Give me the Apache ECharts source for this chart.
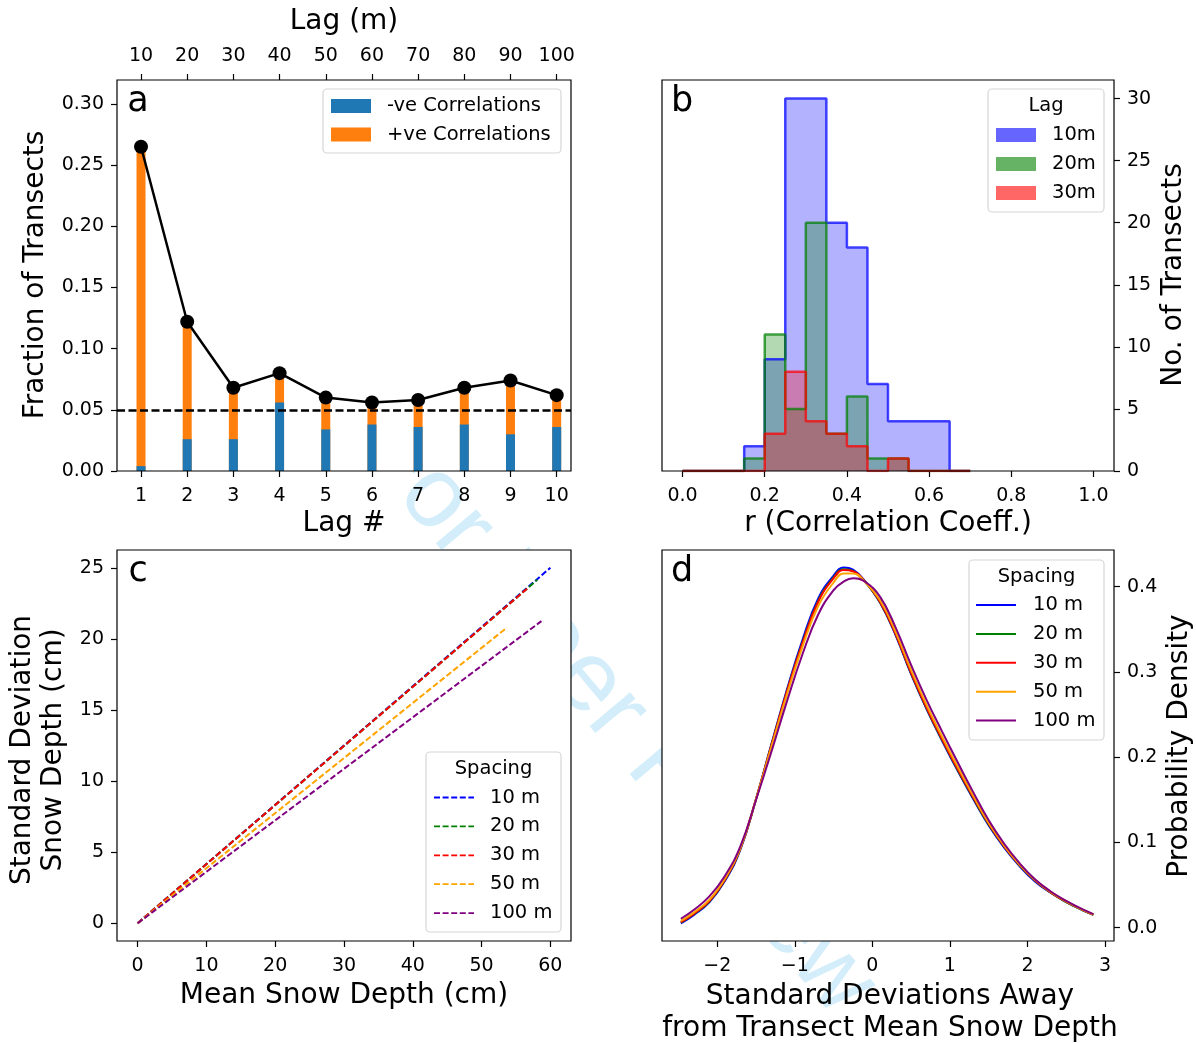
<!DOCTYPE html>
<html>
<head>
<meta charset="utf-8">
<script src="https://cdn.jsdelivr.net/npm/echarts@6/dist/echarts.min.js"></script>
<style>
  html, body { margin: 0; padding: 0; background: #fff; }
  #chart { width: 1196px; height: 1043px; }
</style>
</head>
<body>
<div id="chart"></div>
<script>
// ---------- Panel a: fraction of transects with significant autocorrelation ----------
const lagNumbers = [1, 2, 3, 4, 5, 6, 7, 8, 9, 10];
const lagMetres = [10, 20, 30, 40, 50, 60, 70, 80, 90, 100];
const fractionAll = [0.265, 0.122, 0.068, 0.080, 0.060, 0.056, 0.058, 0.068, 0.074, 0.062];
const fractionNegative = [0.004, 0.026, 0.026, 0.056, 0.034, 0.038, 0.036, 0.038, 0.030, 0.036];
const significanceLevel = 0.05;
const fractionTicks = [0, 0.05, 0.10, 0.15, 0.20, 0.25, 0.30];

// ---------- Panel b: histogram of correlation coefficients ----------
const rBinEdges = [0.00, 0.05, 0.10, 0.15, 0.20, 0.25, 0.30, 0.35, 0.40, 0.45, 0.50, 0.55, 0.60, 0.65, 0.70];
const transects10m = [0, 0, 0, 2, 9, 30, 30, 20, 18, 7, 4, 4, 4, 0];
const transects20m = [0, 0, 0, 1, 11, 5, 20, 3, 6, 1, 1, 0, 0, 0];
const transects30m = [0, 0, 0, 0, 3, 8, 4, 3, 2, 0, 1, 0, 0, 0];
const lagNames = ['10m', '20m', '30m'];
const rTicks = [0, 0.2, 0.4, 0.6, 0.8, 1.0];
const countTicks = [0, 5, 10, 15, 20, 25, 30];

// ---------- Panel c: standard deviation vs mean snow depth ----------
const spacingNames = ['10 m', '20 m', '30 m', '50 m', '100 m'];
const meanDepthEnd = [60.0, 58.1, 56.9, 53.7, 58.7];
const sdDepthEnd = [25.0, 24.15, 23.65, 20.8, 21.25];
const meanDepthTicks = [0, 10, 20, 30, 40, 50, 60];
const sdDepthTicks = [0, 5, 10, 15, 20, 25];

// ---------- Panel d: standardised snow depth distributions ----------
const zScores = [-2.47, -2.3, -2.1, -1.9, -1.7, -1.5, -1.3, -1.1, -0.9, -0.7, -0.5, -0.37, -0.25, -0.1,
                 0.1, 0.3, 0.5, 0.7, 0.9, 1.1, 1.3, 1.5, 1.7, 1.9, 2.1, 2.3, 2.5, 2.7, 2.85];
const density10m  = [0.005, 0.015, 0.030, 0.055, 0.092, 0.151, 0.216, 0.280, 0.338, 0.386, 0.413, 0.4225, 0.420, 0.407,
                     0.381, 0.343, 0.297, 0.256, 0.219, 0.184, 0.151, 0.120, 0.094, 0.072, 0.054, 0.041, 0.030, 0.021, 0.0150];
const density20m  = [0.006, 0.016, 0.031, 0.056, 0.093, 0.151, 0.215, 0.278, 0.335, 0.383, 0.411, 0.4205, 0.4185, 0.4065,
                     0.3815, 0.344, 0.298, 0.257, 0.220, 0.185, 0.152, 0.121, 0.095, 0.073, 0.055, 0.041, 0.030, 0.021, 0.0152];
const density30m  = [0.0065, 0.0165, 0.0315, 0.0565, 0.0935, 0.151, 0.2145, 0.2775, 0.334, 0.382, 0.410, 0.4195, 0.418, 0.4065,
                     0.382, 0.3445, 0.299, 0.258, 0.221, 0.186, 0.153, 0.122, 0.0955, 0.0735, 0.0555, 0.0415, 0.0305, 0.0215, 0.0153];
const density50m  = [0.008, 0.018, 0.033, 0.058, 0.094, 0.151, 0.2125, 0.274, 0.330, 0.377, 0.405, 0.4155, 0.4155, 0.406,
                     0.384, 0.347, 0.302, 0.261, 0.224, 0.189, 0.155, 0.123, 0.0965, 0.074, 0.056, 0.042, 0.031, 0.0215, 0.0155];
const density100m = [0.0105, 0.021, 0.037, 0.061, 0.096, 0.150, 0.207, 0.266, 0.321, 0.367, 0.396, 0.406, 0.4098, 0.406,
                     0.388, 0.352, 0.308, 0.267, 0.230, 0.194, 0.159, 0.126, 0.0985, 0.0755, 0.0565, 0.0425, 0.0315, 0.022, 0.016];
const zTicks = [-2, -1, 0, 1, 2, 3];
const densityTicks = [0, 0.1, 0.2, 0.3, 0.4];

// ---------- styling ----------
const FONT = 'DejaVu Sans';
const TICK_FONT = 19;
const TITLE_FONT = 28;
const LEGEND_FONT = 19.5;
const spacingColors = ['#0000ff', '#008000', '#ff0000', '#ffa500', '#800080'];
const lagColors = ['#0000ff', '#008000', '#ff0000'];
const lagPatchColors = ['#6666ff', '#66b366', '#ff6666'];

const panels = [
  { left: 117, top: 80, width: 454, height: 391 },
  { left: 662, top: 80, width: 452, height: 391 },
  { left: 117, top: 550, width: 454, height: 391 },
  { left: 662, top: 550, width: 452, height: 391 }
];

function valueAxis(gridIndex, min, max, ticks, fmt, extra) {
  return Object.assign({
    type: 'value',
    gridIndex: gridIndex,
    min: min,
    max: max,
    splitLine: { show: false },
    axisLine: { show: false, onZero: false },
    axisTick: { show: true, inside: false, length: 6, customValues: ticks,
                lineStyle: { color: '#000', width: 1.2 } },
    axisLabel: { show: true, color: '#000', fontFamily: FONT, fontSize: TICK_FONT,
                 margin: 13, customValues: ticks, formatter: fmt }
  }, extra || {});
}
function withMargin(axis, m) { axis.axisLabel.margin = m; return axis; }

const minusFmt = v => (v < 0 ? '\u2212' + Math.abs(v) : String(v));

const xAxes = [
  withMargin(valueAxis(0, 0.48, 10.31, lagNumbers, v => String(v)), 16),
  withMargin(valueAxis(0, 0.48, 10.31, lagNumbers, v => String(lagMetres[lagNumbers.indexOf(v)]), { position: 'top' }), 14),
  withMargin(valueAxis(1, -0.05, 1.05, rTicks, v => v.toFixed(1)), 16),
  withMargin(valueAxis(2, -3, 63, meanDepthTicks, v => String(v)), 16),
  withMargin(valueAxis(3, -2.713, 3.116, zTicks, minusFmt), 16)
];
const yAxes = [
  valueAxis(0, 0, 0.3196, fractionTicks, v => v.toFixed(2)),
  valueAxis(1, 0, 31.5, countTicks, v => String(v), { position: 'right' }),
  valueAxis(2, -1.25, 26.25, sdDepthTicks, v => String(v)),
  valueAxis(3, -0.0156, 0.443, densityTicks, v => v.toFixed(1), { position: 'right' })
];

const series = [];

// panel a: positive share drawn as the full bar, negative share laid over its base
series.push({
  name: '+ve Correlations', type: 'bar', xAxisIndex: 0, yAxisIndex: 0, barWidth: 9, barGap: '-100%',
  data: lagNumbers.map((l, i) => [l, fractionAll[i]]),
  itemStyle: { color: '#ff7f0e' }
});
series.push({
  name: '-ve Correlations', type: 'bar', xAxisIndex: 0, yAxisIndex: 0, barWidth: 9, barGap: '-100%',
  data: lagNumbers.map((l, i) => [l, fractionNegative[i]]),
  itemStyle: { color: '#1f77b4' }
});
series.push({
  name: 'All', type: 'line', xAxisIndex: 0, yAxisIndex: 0, z: 5,
  data: lagNumbers.map((l, i) => [l, fractionAll[i]]),
  symbol: 'circle', symbolSize: 14, showSymbol: true,
  itemStyle: { color: '#000' }, lineStyle: { color: '#000', width: 2.5 },
  markLine: {
    silent: true, symbol: 'none', label: { show: false },
    lineStyle: { color: '#000', type: [8, 3.5], width: 2.5 },
    data: [{ yAxis: significanceLevel }]
  }
});

// panel b: step histograms
[transects10m, transects20m, transects30m].forEach((counts, k) => {
  series.push({
    name: lagNames[k], type: 'line', xAxisIndex: 2, yAxisIndex: 1, step: 'end',
    symbol: 'none',
    data: rBinEdges.map((e, i) => [e, i < counts.length ? counts[i] : 0]),
    lineStyle: { color: lagColors[k], width: 2.5, opacity: 0.72 },
    areaStyle: { color: lagColors[k], opacity: 0.3 }
  });
});

// panel c: dashed std-vs-mean lines
spacingNames.forEach((name, k) => {
  series.push({
    name: name, type: 'line', xAxisIndex: 3, yAxisIndex: 2, symbol: 'none',
    data: [[0, 0], [meanDepthEnd[k], sdDepthEnd[k]]],
    lineStyle: { color: spacingColors[k], width: 2, type: [6, 2.6] }
  });
});

// panel d: density curves
[density10m, density20m, density30m, density50m, density100m].forEach((dens, k) => {
  series.push({
    name: spacingNames[k] + ' pdf', type: 'line', xAxisIndex: 4, yAxisIndex: 3, symbol: 'none',
    smooth: 0.45,
    data: zScores.map((z, i) => [z, dens[i]]),
    lineStyle: { color: spacingColors[k], width: 2 }
  });
});

// ---------- annotation graphics ----------
const graphics = [];

function txt(x, y, text, size, opts) {
  return Object.assign({
    type: 'text', x: x, y: y, z: 50,
    style: Object.assign({ text: text, fill: '#000', fontFamily: FONT, fontSize: size,
                           align: 'center', verticalAlign: 'middle' }, (opts && opts.style) || {})
  }, opts && opts.rotation !== undefined ? { rotation: opts.rotation } : {});
}

// watermark behind the axes
graphics.push({
  type: 'text', x: 617, y: 716, rotation: -50 * Math.PI / 180, z: -10, zlevel: 0,
  style: { text: 'For Peer Review', fill: '#d3eefa', fontFamily: 'Liberation Sans', fontSize: 100,
           align: 'center', verticalAlign: 'middle' }
});

// axes frames
panels.forEach(p => {
  graphics.push({
    type: 'rect', z: 60,
    shape: { x: p.left, y: p.top, width: p.width, height: p.height },
    style: { fill: 'none', stroke: '#000', lineWidth: 1.2 }
  });
});

// axis titles
graphics.push(txt(344, 22, 'Lag (m)', TITLE_FONT));
graphics.push(txt(344, 524, 'Lag #', TITLE_FONT));
graphics.push(txt(36, 275, 'Fraction of Transects', TITLE_FONT, { rotation: Math.PI / 2 }));
graphics.push(txt(888, 524, 'r (Correlation Coeff.)', TITLE_FONT));
graphics.push(txt(1174, 275, 'No. of Transects', TITLE_FONT, { rotation: Math.PI / 2 }));
graphics.push(txt(38, 750, 'Standard Deviation\nSnow Depth (cm)', TITLE_FONT,
                  { rotation: Math.PI / 2, style: { lineHeight: 31 } }));
graphics.push(txt(344, 996, 'Mean Snow Depth (cm)', TITLE_FONT));
graphics.push(txt(1180, 746, 'Probability Density', TITLE_FONT, { rotation: Math.PI / 2 }));
graphics.push(txt(890, 1013, 'Standard Deviations Away\nfrom Transect Mean Snow Depth', TITLE_FONT,
                  { style: { lineHeight: 32 } }));

// panel letters
[['a', 138, 102], ['b', 682, 102], ['c', 138, 572], ['d', 682, 572]].forEach(l => {
  graphics.push(txt(l[1], l[2], l[0], 35));
});

// legend boxes
function legendBox(x, y, w, h) {
  return { type: 'rect', z: 55, shape: { x: x, y: y, width: w, height: h, r: 4 },
           style: { fill: 'rgba(255,255,255,0.85)', stroke: '#d6d6d6', lineWidth: 1.2 } };
}
function legendText(x, y, text, align) {
  return { type: 'text', x: x, y: y, z: 56,
           style: { text: text, fill: '#000', fontFamily: FONT, fontSize: LEGEND_FONT,
                    align: align || 'left', verticalAlign: 'middle' } };
}

// panel a legend
graphics.push(legendBox(323, 89, 238, 64));
[['-ve Correlations', '#1f77b4', 106], ['+ve Correlations', '#ff7f0e', 134.5]].forEach(it => {
  graphics.push({ type: 'rect', z: 56, shape: { x: 331, y: it[2] - 7, width: 40, height: 14 },
                  style: { fill: it[1] } });
  graphics.push(legendText(387, it[2], it[0]));
});

// panel b legend
graphics.push(legendBox(988, 89, 116, 123));
graphics.push(legendText(1046, 106, 'Lag', 'center'));
lagNames.forEach((name, k) => {
  const cy = 135 + k * 29;
  graphics.push({ type: 'rect', z: 56, shape: { x: 996, y: cy - 7, width: 40, height: 14 },
                  style: { fill: lagPatchColors[k] } });
  graphics.push(legendText(1052, cy, name));
});

// panel c and d legends
function spacingLegend(bx, by, bw, bh, titleX, titleY, lineX, textX, firstY, dashed) {
  graphics.push(legendBox(bx, by, bw, bh));
  graphics.push(legendText(titleX, titleY, 'Spacing', 'center'));
  spacingNames.forEach((name, k) => {
    const cy = firstY + k * 28.9;
    graphics.push({ type: 'line', z: 56, shape: { x1: lineX, y1: cy, x2: lineX + 40, y2: cy },
                    style: { stroke: spacingColors[k], lineWidth: dashed ? 1.8 : 2,
                             lineDash: dashed ? [6, 2.6] : null } });
    graphics.push(legendText(textX, cy, name));
  });
}
spacingLegend(426, 752, 135, 180, 493.5, 769, 434, 490, 797.5, true);
spacingLegend(969, 560, 135, 180, 1036.5, 577, 976, 1033, 605, false);

const option = {
  animation: false,
  backgroundColor: '#fff',
  grid: panels.map(p => Object.assign({ show: true, backgroundColor: '#fff', borderWidth: 0, z: 0 }, p)),
  xAxis: xAxes,
  yAxis: yAxes,
  series: series,
  graphic: { elements: graphics }
};

const chart = echarts.init(document.getElementById('chart'), null, { renderer: 'canvas' });
chart.setOption(option);
</script>
</body>
</html>
